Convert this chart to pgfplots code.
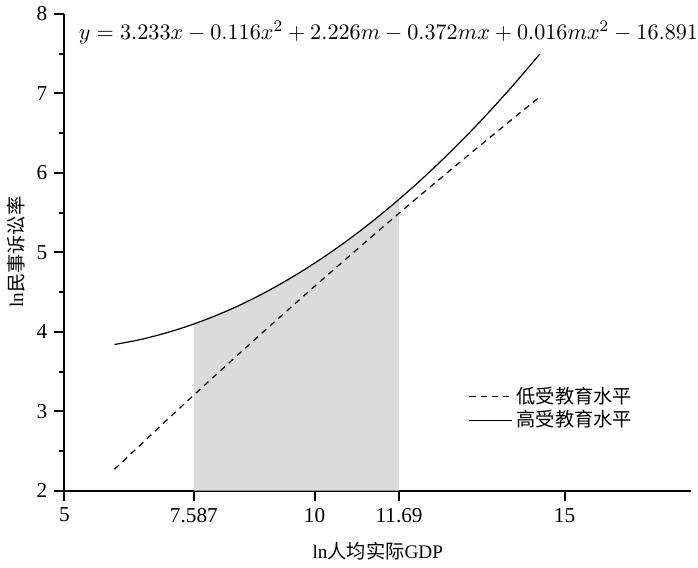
\documentclass[border=0pt]{standalone}
\usepackage{pgfplots}
\pgfplotsset{compat=1.18}
\usepackage{fontspec}
\setmainfont{Liberation Serif}
\newfontfamily\cjk{Noto Sans CJK SC}
\begin{document}
\begin{tikzpicture}
\begin{axis}[
  scale only axis, width=309.5pt, height=235.5pt,
  xmin=5, xmax=17.53, ymin=2, ymax=8,
  axis x line=bottom, axis y line=left,
  axis line style={line width=1pt, -},
  tick align=outside,
  major tick length=5pt, minor tick length=2.5pt,
  every tick/.style={line width=1pt, black},
  xtick={5,7.587,10,11.69,15},
  xticklabels={5,7.587,10,11.69,15},
  ytick={2,3,4,5,6,7,8},
  minor y tick num=1,
  /pgf/number format/assume math mode=true,
  tick label style={font=\fontsize{10.5}{12}\selectfont},
  xlabel={ln{\cjk 人均实际}GDP},
  ylabel={ln{\cjk 民事诉讼率}},
  label style={font=\fontsize{9.5}{11}\selectfont},
  xlabel style={yshift=-3pt},
  ylabel style={yshift=-1pt},
  legend style={draw=none, fill=none, at={(0.635,0.235)}, anchor=north west,
    font=\cjk\fontsize{9.5}{11}\selectfont, row sep=-2pt},
  legend cell align=left,
  legend image code/.code={\draw[#1] (0pt,0pt) -- (21pt,0pt);},
  clip=false,
]
\addplot[fill=black!14, draw=none, forget plot] coordinates {
(7.587,2) (7.587,4.098) (8,4.197) (8.5,4.334) (9,4.491) (9.5,4.668) (10,4.863)
(10.5,5.078) (11,5.312) (11.5,5.566) (11.69,5.667) (11.69,2)} -- cycle;
\addplot[black, line width=0.6pt, dash pattern=on 3pt off 2.5pt] coordinates {
(6,2.270) (7,2.862) (7.587,3.204) (8,3.443) (9,4.013) (10,4.572) (11,5.120)
(11.69,5.492) (12,5.658) (13,6.184) (14,6.700) (14.5,6.954)};
\addlegendentry{低受教育水平}
\addplot[black, line width=0.6pt, smooth] coordinates {
(6,3.840) (6.5,3.900) (7,3.980) (7.5,4.079) (8,4.197) (8.5,4.334) (9,4.491)
(9.5,4.668) (10,4.863) (10.5,5.078) (11,5.312) (11.5,5.566) (12,5.838)
(12.5,6.131) (13,6.442) (13.5,6.773) (14,7.123) (14.5,7.492)};
\addlegendentry{高受教育水平}
\node[anchor=west, inner sep=0pt, font=\fontsize{11}{13}\selectfont] at (axis cs:5.28,7.77)
  {$y=3.233x-0.116x^2+2.226m-0.372mx+0.016mx^2-16.891$};
\end{axis}
\end{tikzpicture}
\end{document}
